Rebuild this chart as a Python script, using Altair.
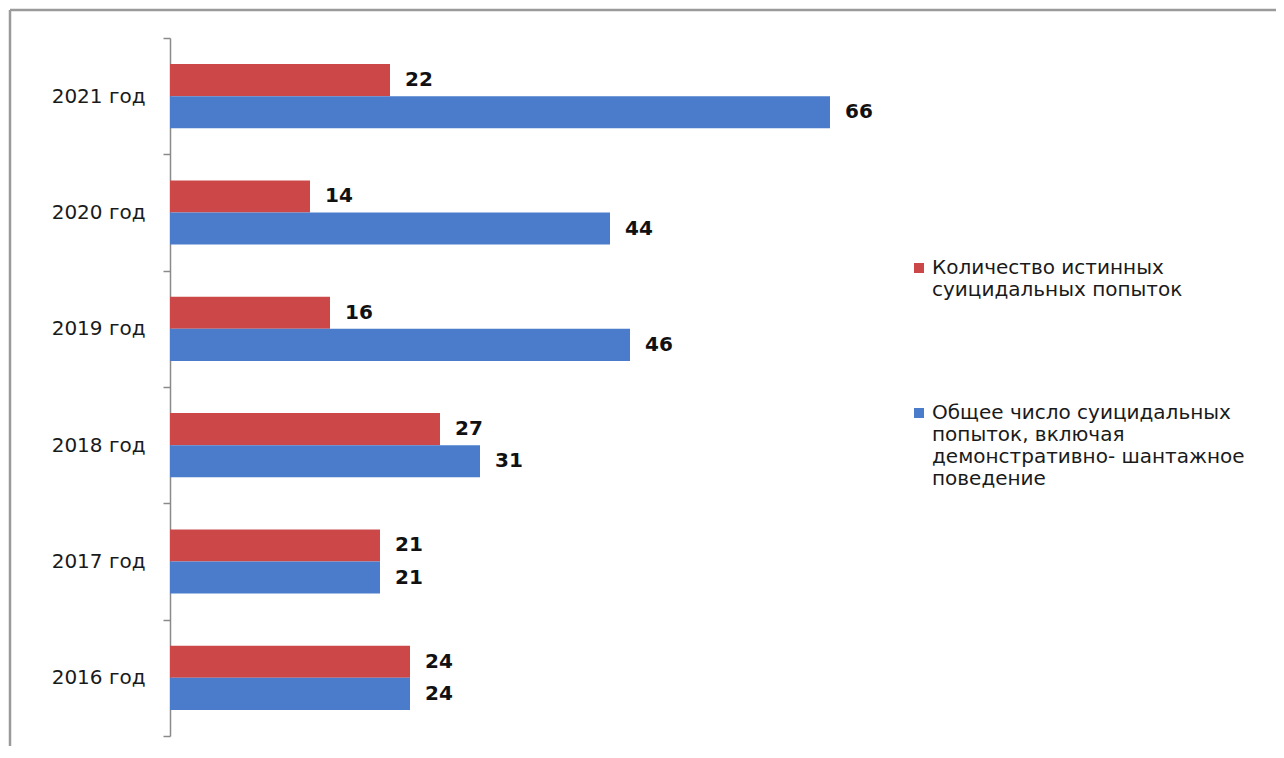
import json
import altair as alt
import pandas as pd

years = ["2021 год", "2020 год", "2019 год", "2018 год", "2017 год", "2016 год"]
true_attempts = [22, 14, 16, 27, 21, 24]
total_attempts = [66, 44, 46, 31, 21, 24]
series_names = [
    "Количество истинных суицидальных попыток",
    "Общее число суицидальных попыток, включая демонстративно- шантажное поведение",
]
legend_lines = [
    ["Количество истинных", "суицидальных попыток"],
    ["Общее число суицидальных", "попыток, включая", "демонстративно- шантажное", "поведение"],
]
colors = ["#CC4848", "#4A7CCB"]

rows = []
for y, a, b in zip(years, true_attempts, total_attempts):
    rows.append({"year": y, "series": series_names[0], "value": a})
    rows.append({"year": y, "series": series_names[1], "value": b})
df = pd.DataFrame(rows)

label_expr = (
    f"datum.label == {json.dumps(series_names[0], ensure_ascii=False)} ? "
    f"{json.dumps(legend_lines[0], ensure_ascii=False)} : "
    f"{json.dumps(legend_lines[1], ensure_ascii=False)}"
)

font = "DejaVu Sans"


def build(line_height):
    legend_kw = dict(
        title=None,
        orient="none",
        legendX=739,
        legendY=220,
        padding=0,
        symbolType="square",
        symbolSize=100,
        symbolStrokeWidth=0,
        labelExpr=label_expr,
        labelFont=font,
        labelFontSize=20,
        labelColor="#1a1a1a",
        labelLimit=500,
        labelOffset=3,
        rowPadding=103 if line_height is None else 50,
    )
    if line_height is not None:
        legend_kw["labelLineHeight"] = line_height

    base = alt.Chart(df).encode(
        y=alt.Y(
            "year:N",
            sort=years,
            title=None,
            scale=alt.Scale(paddingInner=0, paddingOuter=0),
            axis=alt.Axis(
                tickBand="extent",
                domainColor="#8a8a8a",
                tickColor="#8a8a8a",
                tickSize=7,
                domainWidth=1.5,
                tickWidth=1.5,
                labelPadding=18,
                labelFont=font,
                labelFontSize=20,
                labelColor="#1a1a1a",
            ),
        ),
        yOffset=alt.YOffset(
            "series:N", sort=series_names,
            scale=alt.Scale(paddingInner=0, paddingOuter=0.8125),
        ),
        x=alt.X("value:Q", scale=alt.Scale(domain=[0, 70]), axis=None),
    )

    bars = base.mark_bar().encode(
        color=alt.Color(
            "series:N",
            sort=series_names,
            scale=alt.Scale(domain=series_names, range=colors),
            legend=alt.Legend(**legend_kw),
        )
    )

    labels = base.mark_text(
        align="left", baseline="middle", dx=15, font=font, fontSize=20,
        fontWeight="bold", color="#111111"
    ).encode(text="value:Q")

    frame_df = pd.DataFrame({"k": [0]})
    frame_left = alt.Chart(frame_df).mark_rule(color="#9a9a9a", strokeWidth=2.5).encode(
        x=alt.value(-160), y=alt.value(-28), y2=alt.value(730)
    )
    frame_top = alt.Chart(frame_df).mark_rule(color="#9a9a9a", strokeWidth=2.5).encode(
        x=alt.value(-160), x2=alt.value(1120), y=alt.value(-28)
    )

    return (
        alt.layer(frame_left, frame_top, bars, labels)
        .properties(
            width=700,
            height=698,
            background="white",
            autosize=alt.AutoSizeParams(type="none"),
            padding={"left": 162, "top": 30, "right": 406, "bottom": 10},
        )
        .configure_view(strokeWidth=0)
    )


try:
    chart = build(31)
    chart.to_dict()
except Exception:
    chart = build(None)

chart.save("out.html", embed_options={"renderer": "svg", "actions": False})
